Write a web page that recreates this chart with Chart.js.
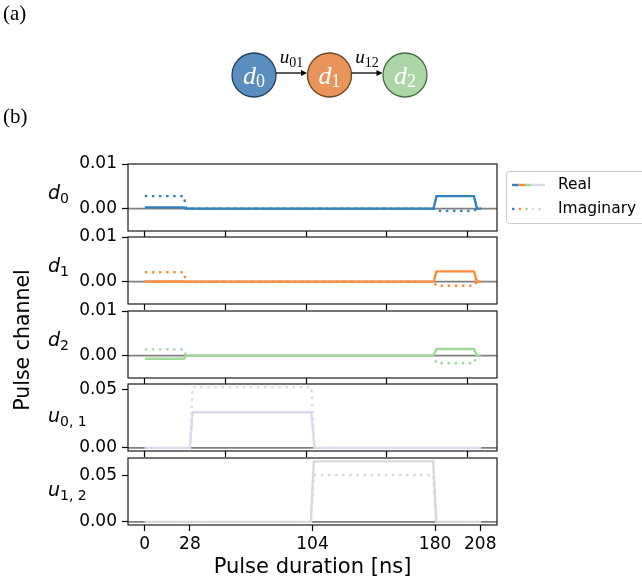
<!DOCTYPE html>
<html>
<head>
<meta charset="utf-8">
<script src="https://cdn.jsdelivr.net/npm/chart.js@4.4.1/dist/chart.umd.min.js"></script>
<style>
  body { margin: 0; background: #fff; }
  #fig { position: relative; width: 642px; height: 583px; overflow: hidden; }
  #fig canvas { position: absolute; left: 0; top: 0; }
</style>
</head>
<body>
<div id="fig"></div>
<script>
// ---- data ----
const nodeSubs = ["0", "1", "2"];
const edgeSubs = ["01", "12"];
const nodeFill = ["#5a8ebf", "#e8945a", "#acd5a8"];
const nodeEdge = ["#22405c", "#6e4421", "#466b43"];

const channelNames = ["d", "d", "d", "u", "u"];
const channelSubs = ["0", "1", "2", "0, 1", "1, 2"];
const channelColors = ["#3182bd", "#fd8d3c", "#a1d99b", "#dadaeb", "#d9d9d9"];
const legendLabels = ["Real", "Imaginary"];

// breakpoints in ns, amplitudes at each breakpoint
const timeD = [0, 24.3, 25.6, 179, 180.9, 204.1, 206, 208.6];
const d0Real = [0.0003, 0.0003, 0, 0, 0.0028, 0.0028, 0, 0];
const d0Imag = [0.0028, 0.0028, 0, 0, -0.0005, -0.0005, 0, 0];
const d1Real = [0.00005, 0.00005, 0, 0, 0.0023, 0.0023, 0, 0];
const d1Imag = [0.0021, 0.0021, 0, 0, -0.0009, -0.0009, 0, 0];
const d2Real = [-0.0007, -0.0007, 0, 0, 0.0015, 0.0015, 0, 0];
const d2Imag = [0.0014, 0.0014, 0, 0, -0.0017, -0.0017, 0, 0];
const timeU01 = [0, 28, 29.6, 103.3, 105.2, 208.6];
const u01Real = [0, 0, 0.0307, 0.0307, 0, 0];
const u01Imag = [0, 0, 0.0523, 0.0523, 0, 0];
const timeU12 = [0, 103, 104.8, 178.8, 180.8, 208.6];
const u12Real = [0, 0, 0.0655, 0.0655, 0, 0];
const u12Imag = [0, 0, 0.0508, 0.0508, 0, 0];

const xTicksInner = [0, 50, 100, 150, 200];
const xTicksBottom = [0, 28, 104, 180, 208];
const dTicks = [0, 0.01];
const uTicks = [0, 0.05];

// ---- page setup ----
const W = 642, H = 583;
const SANS = '"DejaVu Sans"';
Chart.defaults.font.family = SANS;
Chart.defaults.color = "#000";
const fig = document.getElementById("fig");

function makeCanvas() {
  const c = document.createElement("canvas");
  c.width = W;
  c.height = H;
  fig.appendChild(c);
  return c;
}

// ---- (a) diagram ----
const diagramPlugin = {
  id: "diagram",
  afterDatasetsDraw(chart) {
    const ctx = chart.ctx;
    const xs = chart.scales.x, ys = chart.scales.y;
    const r = 22;
    const cy = ys.getPixelForValue(0);
    ctx.save();
    ctx.fillStyle = "#000";
    ctx.font = '21px "Liberation Serif"';
    ctx.textBaseline = "alphabetic";
    ctx.fillText("(a)", 3, 20);
    ctx.fillText("(b)", 3, 123);

    // arrows + edge labels
    edgeSubs.forEach((sub, i) => {
      const x1 = xs.getPixelForValue(i) + r;
      const x2 = xs.getPixelForValue(i + 1) - r - 0.5;
      const y = cy - 2;
      ctx.strokeStyle = "#000";
      ctx.lineWidth = 1.3;
      ctx.beginPath();
      ctx.moveTo(x1, y);
      ctx.lineTo(x2 - 5, y);
      ctx.stroke();
      ctx.beginPath();
      ctx.moveTo(x2, y);
      ctx.lineTo(x2 - 6, y - 3);
      ctx.lineTo(x2 - 6, y + 3);
      ctx.closePath();
      ctx.fill();
      const mid = (x1 + x2) / 2;
      ctx.font = 'italic 19px "Liberation Serif"';
      const wu = ctx.measureText("u").width;
      ctx.font = '14px "Liberation Serif"';
      const ws = ctx.measureText(sub).width;
      const left = mid - (wu + ws) / 2;
      ctx.font = 'italic 19px "Liberation Serif"';
      ctx.fillText("u", left, 63);
      ctx.font = '14px "Liberation Serif"';
      ctx.fillText(sub, left + wu, 67);
    });

    // node labels
    ctx.fillStyle = "#fff";
    nodeSubs.forEach((sub, i) => {
      const cx = xs.getPixelForValue(i);
      ctx.font = 'italic 26px "Liberation Serif"';
      const wd = ctx.measureText("d").width;
      ctx.font = '18px "Liberation Serif"';
      const ws = ctx.measureText(sub).width;
      const left = cx - (wd + ws) / 2;
      ctx.font = 'italic 26px "Liberation Serif"';
      ctx.fillText("d", left, cy + 9);
      ctx.font = '18px "Liberation Serif"';
      ctx.fillText(sub, left + wd, cy + 12);
    });
    ctx.restore();
  }
};

new Chart(makeCanvas(), {
  type: "bubble",
  data: {
    datasets: [{
      data: nodeSubs.map((s, i) => ({ x: i, y: 0, r: 22 })),
      backgroundColor: nodeFill,
      borderColor: nodeEdge,
      borderWidth: 1.3,
      clip: false
    }]
  },
  options: {
    responsive: false,
    animation: false,
    events: [],
    layout: { autoPadding: false, padding: { left: 178.5, right: 161.5, top: 0, bottom: 433 } },
    scales: {
      x: { display: false, min: -1, max: 3 },
      y: { display: false, min: -1, max: 1 }
    },
    plugins: { legend: { display: false }, tooltip: { enabled: false } }
  },
  plugins: [diagramPlugin]
});

// ---- (b) pulse panels ----
const panelTops = [164, 237, 311, 384, 458];
const panelH = 67;
const plotLeft = 128, plotRight = 497;
const xMin = -10.4, xMax = 218.4;

const series = [
  { t: timeD, re: d0Real, im: d0Imag, ticks: dTicks, yMin: -0.005, yMax: 0.01 },
  { t: timeD, re: d1Real, im: d1Imag, ticks: dTicks, yMin: -0.005, yMax: 0.01 },
  { t: timeD, re: d2Real, im: d2Imag, ticks: dTicks, yMin: -0.005, yMax: 0.01 },
  { t: timeU01, re: u01Real, im: u01Imag, ticks: uTicks, yMin: -0.0027, yMax: 0.055 },
  { t: timeU12, re: u12Real, im: u12Imag, ticks: uTicks, yMin: -0.0034, yMax: 0.0692 }
];

function frameAndLabel(idx) {
  return {
    id: "frame" + idx,
    afterDraw(chart) {
      const ctx = chart.ctx;
      const a = chart.chartArea;
      ctx.save();
      ctx.strokeStyle = "#1a1a1a";
      ctx.lineWidth = 1.2;
      ctx.strokeRect(a.left, a.top, a.right - a.left, a.bottom - a.top);

      // channel label, e.g. d_0
      const mid = (a.top + a.bottom) / 2;
      const base = channelNames[idx] === "d" ? mid + 1 : mid + 4;
      ctx.fillStyle = "#000";
      ctx.textBaseline = "alphabetic";
      ctx.font = "italic 19px " + SANS;
      ctx.fillText(channelNames[idx], 48, base);
      const w = ctx.measureText(channelNames[idx]).width;
      ctx.font = "14px " + SANS;
      ctx.fillText(channelSubs[idx], 48 + w, base + 4);

      if (idx === 2) {
        ctx.save();
        ctx.translate(24, 340);
        ctx.rotate(-Math.PI / 2);
        ctx.font = "20.5px " + SANS;
        ctx.textAlign = "center";
        ctx.textBaseline = "middle";
        ctx.fillText("Pulse channel", 0, 0);
        ctx.restore();
      }

      if (idx === 0) {
        // legend box
        const bx = 506.5, by = 171.5, bw = 160, bh = 52, rr = 3;
        ctx.beginPath();
        ctx.moveTo(bx + rr, by);
        ctx.arcTo(bx + bw, by, bx + bw, by + bh, rr);
        ctx.arcTo(bx + bw, by + bh, bx, by + bh, rr);
        ctx.arcTo(bx, by + bh, bx, by, rr);
        ctx.arcTo(bx, by, bx + bw, by, rr);
        ctx.closePath();
        ctx.fillStyle = "rgba(255,255,255,0.8)";
        ctx.fill();
        ctx.strokeStyle = "#cccccc";
        ctx.lineWidth = 1;
        ctx.stroke();

        const seg = 33 / channelColors.length;
        const rows = [185, 209];
        rows.forEach((ry, k) => {
          channelColors.forEach((c, j) => {
            ctx.strokeStyle = c;
            ctx.lineWidth = 2.4;
            ctx.setLineDash(k === 0 ? [] : [2.5, 4.6]);
            ctx.beginPath();
            ctx.moveTo(512 + j * seg, ry);
            ctx.lineTo(512 + (j + 1) * seg, ry);
            ctx.stroke();
          });
          ctx.setLineDash([]);
          ctx.fillStyle = "#000";
          ctx.font = "15.5px " + SANS;
          ctx.textBaseline = "middle";
          ctx.fillText(legendLabels[k], 558, ry);
        });
      }
      ctx.restore();
    }
  };
}

series.forEach((s, idx) => {
  const isBottom = idx === series.length - 1;
  const xh = isBottom ? 55 : 8;
  const top = panelTops[idx];
  const color = channelColors[idx];
  new Chart(makeCanvas(), {
    type: "line",
    data: {
      datasets: [
        {
          data: s.t.map((x, k) => ({ x, y: s.im[k] })),
          borderColor: color, borderWidth: 2.4, borderDash: [2.5, 4.6],
          pointRadius: 0, tension: 0, order: 1
        },
        {
          data: s.t.map((x, k) => ({ x, y: s.re[k] })),
          borderColor: color, borderWidth: 2.4,
          pointRadius: 0, tension: 0, order: 2
        },
        {
          data: [{ x: xMin, y: 0 }, { x: xMax, y: 0 }],
          borderColor: "#808080", borderWidth: 1.6,
          pointRadius: 0, order: 3
        }
      ]
    },
    options: {
      responsive: false,
      animation: false,
      events: [],
      layout: {
        autoPadding: false,
        padding: { left: 0, right: W - plotRight, top: top, bottom: H - top - panelH - xh }
      },
      plugins: { legend: { display: false }, tooltip: { enabled: false } },
      scales: {
        x: {
          type: "linear",
          min: xMin, max: xMax,
          afterBuildTicks: sc => { sc.ticks = (isBottom ? xTicksBottom : xTicksInner).map(v => ({ value: v })); },
          afterFit: sc => { sc.height = xh; },
          border: { display: false },
          grid: { drawOnChartArea: false, drawTicks: true, tickLength: 6, tickWidth: 1.2, tickColor: "#000" },
          ticks: {
            display: isBottom, autoSkip: false, maxRotation: 0, padding: 3,
            font: { size: 17 }, color: "#000",
            callback: v => String(v)
          },
          title: {
            display: isBottom, text: "Pulse duration [ns]",
            font: { size: 21 }, color: "#000", padding: { top: 0, bottom: 0 }
          }
        },
        y: {
          type: "linear",
          min: s.yMin, max: s.yMax,
          afterBuildTicks: sc => { sc.ticks = s.ticks.map(v => ({ value: v })); },
          afterFit: sc => { sc.width = plotLeft; },
          border: { display: false },
          grid: { drawOnChartArea: false, drawTicks: true, tickLength: 6, tickWidth: 1.2, tickColor: "#000" },
          ticks: {
            autoSkip: false, padding: 5, font: { size: 17 }, color: "#000",
            callback: v => Number(v).toFixed(2)
          }
        }
      }
    },
    plugins: [frameAndLabel(idx)]
  });
});
</script>
</body>
</html>
